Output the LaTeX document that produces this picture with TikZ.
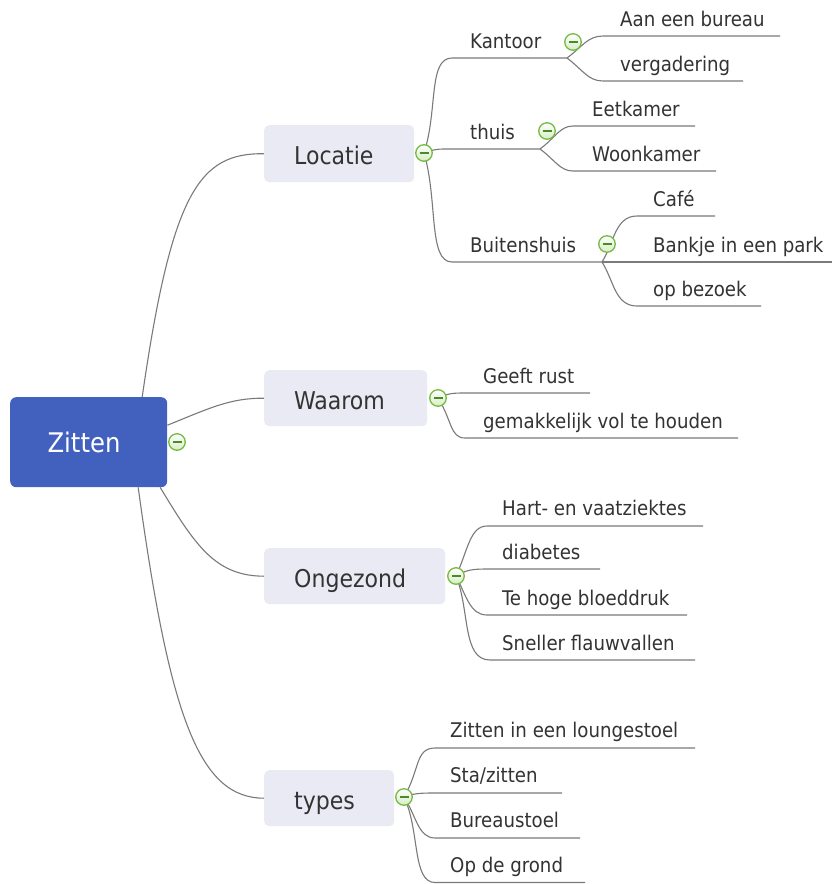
\documentclass[tikz,border=0pt]{standalone}
\usepackage{fontspec}
\setmainfont{DejaVu Sans Condensed}
\usetikzlibrary{backgrounds}
\definecolor{rootblue}{HTML}{4260BD}
\definecolor{topicfill}{HTML}{E9EAF3}
\definecolor{txt}{HTML}{333333}
\definecolor{linegray}{HTML}{7A7A7A}
\definecolor{tgreen}{HTML}{77BB44}
\definecolor{tgreenlight}{HTML}{D6EDC4}
\definecolor{tgreendark}{HTML}{4A8A2A}
\begin{document}
\begin{tikzpicture}[x=1pt,y=-1pt,
 rootbox/.style={fill=rootblue, rounded corners=6pt, minimum width=157pt, minimum height=90pt, inner sep=0, anchor=north west},
 topicbox/.style={fill=topicfill, rounded corners=5pt, inner sep=0, anchor=north west, minimum height=56pt},
 topictext/.style={anchor=base west, inner sep=0, text=txt, font=\fontsize{24.5}{28}\selectfont},
 leaf/.style={anchor=base west, inner sep=0, text=txt, font=\fontsize{20.2}{24}\selectfont},
 conn/.style={draw=linegray, line width=1.1pt},
 toggle/.style={circle, draw=tgreen, line width=1.3pt, top color=white, bottom color=tgreenlight, minimum size=16.5pt, inner sep=0,
   path picture={\draw[tgreendark, line width=1.4pt] ([xshift=-4.5pt]path picture bounding box.center) -- ([xshift=4.5pt]path picture bounding box.center);}}
]
\useasboundingbox (0,0) rectangle (832,884);

% root
\node[rootbox] (root) at (10,397) {};
\node[anchor=base, inner sep=0, text=white, font=\fontsize{27}{30}\selectfont] (rootT) at (84,452) {Zitten};
\node[toggle] (tRoot) at (177,442) {};

% topics
\node[topicbox, minimum width=150pt, minimum height=57pt] (loc) at (264,125) {};
\node[topictext] (locT) at (294,164) {Locatie};
\node[toggle] (tLoc) at (424,153) {};

\node[topicbox, minimum width=163pt] (waa) at (264,370) {};
\node[topictext] (waaT) at (294,409) {Waarom};
\node[toggle] (tWaa) at (438,398) {};

\node[topicbox, minimum width=181pt] (ong) at (264,548) {};
\node[topictext] (ongT) at (294,587) {Ongezond};
\node[toggle] (tOng) at (456,576) {};

\node[topicbox, minimum width=130pt] (typ) at (264,770) {};
\node[topictext] (typT) at (294,809) {types};
\node[toggle] (tTyp) at (404,797) {};

% Locatie subtopics
\node[leaf] (kan) at (470,48) {Kantoor};
\node[toggle] (tKan) at (573,42) {};
\node[leaf] (thu) at (470,139) {thuis};
\node[toggle] (tThu) at (547,131) {};
\node[leaf] (bui) at (470,252) {Buitenshuis};
\node[toggle] (tBui) at (607,244) {};

\node[leaf] (aan) at (620,26) {Aan een bureau};
\node[leaf] (ver) at (620,71) {vergadering};
\node[leaf] (eet) at (592,116) {Eetkamer};
\node[leaf] (woo) at (592,161) {Woonkamer};
\node[leaf] (caf) at (653,206) {Café};
\node[leaf] (ban) at (653,252) {Bankje in een park};
\node[leaf] (opb) at (653,296) {op bezoek};

% Waarom
\node[leaf] (gee) at (483,383) {Geeft rust};
\node[leaf] (gem) at (483,428) {gemakkelijk vol te houden};

% Ongezond
\node[leaf] (har) at (502,515) {Hart- en vaatziektes};
\node[leaf] (dia) at (502,559) {diabetes};
\node[leaf] (teh) at (502,605) {Te hoge bloeddruk};
\node[leaf] (sne) at (502,650) {Sneller flauwvallen};

% types
\node[leaf] (zil) at (450,737) {Zitten in een loungestoel};
\node[leaf] (sta) at (450,782) {Sta/zitten};
\node[leaf] (bur) at (450,827) {Bureaustoel};
\node[leaf] (opd) at (450,872) {Op de grond};

% coordinates of underline ends
\coordinate (kanS) at (452,58);  \coordinate (kanE) at (567,58);
\coordinate (thuS) at (445,149); \coordinate (thuE) at (540,149);
\coordinate (buiS) at (452,262); \coordinate (buiE) at (602,262);
\coordinate (aanS) at (603,36);  \coordinate (aanE) at (780,36);
\coordinate (verS) at (603,81);  \coordinate (verE) at (743,81);
\coordinate (eetS) at (573,126); \coordinate (eetE) at (695,126);
\coordinate (wooS) at (573,171); \coordinate (wooE) at (716,171);
\coordinate (cafS) at (637,216); \coordinate (cafE) at (715,216);
\coordinate (banE) at (832,262);
\coordinate (opbS) at (637,306); \coordinate (opbE) at (761,306);
\coordinate (geeS) at (465,393); \coordinate (geeE) at (590,393);
\coordinate (gemS) at (465,438); \coordinate (gemE) at (738,438);
\coordinate (harS) at (487,526); \coordinate (harE) at (703,526);
\coordinate (diaS) at (487,569); \coordinate (diaE) at (600,569);
\coordinate (tehS) at (487,615); \coordinate (tehE) at (687,615);
\coordinate (sneS) at (490,660); \coordinate (sneE) at (695,660);
\coordinate (zilS) at (435,748); \coordinate (zilE) at (695,748);
\coordinate (staS) at (432,793); \coordinate (staE) at (562,793);
\coordinate (burS) at (435,838); \coordinate (burE) at (580,838);
\coordinate (opdS) at (435,882.5); \coordinate (opdE) at (585,882.5);

\begin{scope}[on background layer]
\fill[white] (0,0) rectangle (832,884);
% root connectors
\draw[conn] ([xshift=53.5pt]root.north) .. controls (172,190) and (200,153) .. (loc.west);
\draw[conn] ([yshift=17pt]root.east) .. controls (210,408) and (230,398) .. (waa.west);
\draw[conn] ([xshift=71.5pt]root.south) .. controls (195,545) and (215,576) .. (ong.west);
\draw[conn] ([xshift=49.5pt]root.south) .. controls (170,720) and (200,798) .. (typ.west);

% Locatie
\draw[conn] (tLoc.center) .. controls (438,110) and (428,58) .. (kanS) -- (kanE);
\draw[conn] (tLoc.center) .. controls (432,150) and (436,149) .. (thuS) -- (thuE);
\draw[conn] (tLoc.center) .. controls (438,200) and (428,262) .. (buiS) -- (buiE);
\draw[conn] (kanE) .. controls (583,46) and (588,36) .. (aanS) -- (aanE);
\draw[conn] (kanE) .. controls (583,70) and (588,81) .. (verS) -- (verE);
\draw[conn] (thuE) .. controls (555,138) and (560,126) .. (eetS) -- (eetE);
\draw[conn] (thuE) .. controls (555,160) and (560,171) .. (wooS) -- (wooE);
\draw[conn] (buiE) .. controls (614,243) and (615,216) .. (cafS) -- (cafE);
\draw[conn] (buiE) -- (banE);
\draw[conn] (buiE) .. controls (614,281) and (615,306) .. (opbS) -- (opbE);

% Waarom
\draw[conn] (tWaa.center) .. controls (448,393) and (455,393) .. (geeS) -- (geeE);
\draw[conn] (tWaa.center) .. controls (452,420) and (450,438) .. (gemS) -- (gemE);

% Ongezond
\draw[conn] (tOng.center) .. controls (468,550) and (470,526) .. (harS) -- (harE);
\draw[conn] (tOng.center) .. controls (466,570) and (472,569) .. (diaS) -- (diaE);
\draw[conn] (tOng.center) .. controls (466,595) and (470,615) .. (tehS) -- (tehE);
\draw[conn] (tOng.center) .. controls (470,610) and (462,660) .. (sneS) -- (sneE);

% types
\draw[conn] (tTyp.center) .. controls (420,770) and (415,748) .. (zilS) -- (zilE);
\draw[conn] (tTyp.center) .. controls (412,794) and (418,793) .. (staS) -- (staE);
\draw[conn] (tTyp.center) .. controls (416,815) and (418,838) .. (burS) -- (burE);
\draw[conn] (tTyp.center) .. controls (420,830) and (412,882.5) .. (opdS) -- (opdE);
\end{scope}
\end{tikzpicture}
\end{document}
